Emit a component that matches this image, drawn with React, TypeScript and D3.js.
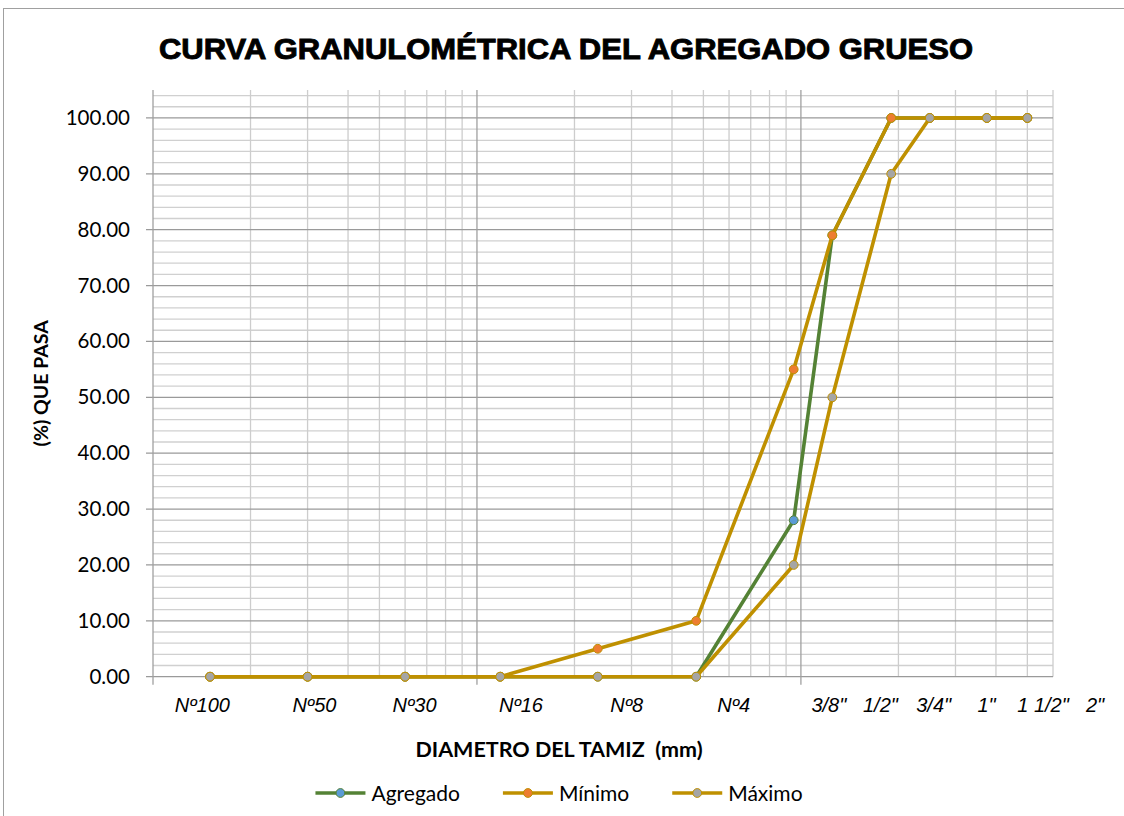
import React, { useRef, useEffect } from "react";
import * as d3 from "d3";

// sieve openings (mm) and % passing for each curve
const sieveSizes = [0.15, 0.3, 0.6, 1.18, 2.36, 4.75, 9.5, 12.5, 19, 25, 37.5, 50];
const agregado = [0, 0, 0, 0, 0, 0, 28, 79, 100, 100, 100, 100];
const minimo = [0, 0, 0, 0, 5, 10, 55, 79, 100, 100, 100, 100];
const maximo = [0, 0, 0, 0, 0, 0, 20, 50, 90, 100, 100, 100];

// labels under the axis (text box in the original, not aligned with the data)
const sieveLabels = ["Nº100", "Nº50", "Nº30", "Nº16", "Nº8", "Nº4", '3/8"', '1/2"', '3/4"', '1"', '1 1/2"', '2"'];
const sieveLabelAt = [0.142, 0.315, 0.642, 1.367, 2.9, 6.2, 12.2, 17.6, 25.7, 37.4, 55.9, 80.9];

const yTicks = d3.range(0, 101, 10);
const yMinor = d3.range(0, 106, 2);

const series = [
  { name: "Agregado", values: agregado, line: "#548235", marker: "#5b9bd5" },
  { name: "Mínimo", values: minimo, line: "#bf9000", marker: "#ed7d31" },
  { name: "Máximo", values: maximo, line: "#bf9000", marker: "#a5a5a5" },
];

export default function App() {
  const svgRef = useRef<SVGSVGElement>(null);

  useEffect(() => {
    const plot = { left: 153, right: 1053, top: 90, bottom: 676.7 };
    const svg = d3.select(svgRef.current);
    svg.selectAll("*").remove();

    // chart frame
    svg.append("rect")
      .attr("x", 3.5).attr("y", 8.5)
      .attr("width", 1300).attr("height", 1000)
      .attr("fill", "#fff").attr("stroke", "#a0a0a0");

    const x = d3.scaleLog().domain([0.1, 60]).range([plot.left, plot.right]);
    const y = d3.scaleLinear().domain([0, 105]).range([plot.bottom, plot.top]);

    const grid = svg.append("g");

    // horizontal minor gridlines
    grid.selectAll(".hminor")
      .data(yMinor.filter((v) => v % 10 !== 0))
      .join("line")
      .attr("x1", plot.left).attr("x2", plot.right)
      .attr("y1", (d) => y(d)).attr("y2", (d) => y(d))
      .attr("stroke", "#d0d0d0").attr("stroke-width", 1.3);

    // vertical gridlines (log minor)
    const xTicks = x.ticks().filter((v) => v > 0.1);
    const isDecade = (v: number) => Math.abs(Math.log10(v) - Math.round(Math.log10(v))) < 1e-6;
    grid.selectAll(".vminor")
      .data(xTicks.filter((v) => !isDecade(v)))
      .join("line")
      .attr("x1", (d) => x(d)).attr("x2", (d) => x(d))
      .attr("y1", plot.top).attr("y2", plot.bottom)
      .attr("stroke", "#cdcdcd").attr("stroke-width", 1.3);

    // horizontal major gridlines + ticks
    grid.selectAll(".hmajor")
      .data(yTicks)
      .join("line")
      .attr("x1", plot.left - 7).attr("x2", plot.right)
      .attr("y1", (d) => y(d)).attr("y2", (d) => y(d))
      .attr("stroke", "#9a9a9a").attr("stroke-width", 1.2);

    // decade lines + ticks
    grid.selectAll(".vmajor")
      .data([0.1, 1, 10])
      .join("line")
      .attr("x1", (d) => x(d)).attr("x2", (d) => x(d))
      .attr("y1", plot.top).attr("y2", plot.bottom + 8)
      .attr("stroke", "#a0a0a0").attr("stroke-width", 1.3);

    // y tick labels
    svg.append("g")
      .selectAll("text")
      .data(yTicks)
      .join("text")
      .attr("x", 130)
      .attr("y", (d) => y(d) + 7)
      .attr("text-anchor", "end")
      .style("font-family", "Lato, 'Open Sans', sans-serif")
      .style("font-size", "20.5px")
      .attr("fill", "#000")
      .text((d) => d3.format(".2f")(d));

    // x labels (italic)
    svg.append("g")
      .selectAll("text")
      .data(sieveLabels)
      .join("text")
      .attr("x", (_, i) => x(sieveLabelAt[i]))
      .attr("y", 712)
      .attr("text-anchor", "middle")
      .style("font-family", "'Liberation Sans', Arial, sans-serif")
      .style("font-style", "italic")
      .style("font-size", "20px")
      .attr("fill", "#000")
      .text((d) => d);

    // series
    const line = d3.line<number>()
      .x((_, i) => x(sieveSizes[i]))
      .y((d) => y(d));

    series.forEach((s) => {
      const g = svg.append("g");
      g.append("path")
        .datum(s.values)
        .attr("d", line)
        .attr("fill", "none")
        .attr("stroke", s.line)
        .attr("stroke-width", 3.6)
        .attr("stroke-linejoin", "round");
      g.selectAll("circle")
        .data(s.values)
        .join("circle")
        .attr("cx", (_, i) => x(sieveSizes[i]))
        .attr("cy", (d) => y(d))
        .attr("r", 4.4)
        .attr("fill", s.marker)
        .attr("stroke", s.line)
        .attr("stroke-width", 1);
    });

    // title
    svg.append("text")
      .attr("x", 566).attr("y", 59)
      .attr("text-anchor", "middle")
      .attr("textLength", 814)
      .attr("lengthAdjust", "spacingAndGlyphs")
      .style("font-family", "'Liberation Sans', Arial, sans-serif")
      .style("font-weight", "bold")
      .style("font-size", "29px")
      .attr("stroke", "#000").attr("stroke-width", 0.9)
      .text("CURVA GRANULOMÉTRICA DEL AGREGADO GRUESO");

    // axis titles
    svg.append("text")
      .attr("transform", `translate(40,${(plot.top + plot.bottom) / 2}) rotate(-90)`)
      .attr("text-anchor", "middle")
      .attr("dominant-baseline", "central")
      .style("font-family", "Lato, 'Open Sans', sans-serif")
      .style("font-weight", "bold")
      .style("font-size", "19.5px")
      .text("(%) QUE PASA");

    svg.append("text")
      .attr("x", 559).attr("y", 756.5)
      .attr("text-anchor", "middle")
      .style("font-family", "Lato, 'Open Sans', sans-serif")
      .style("font-weight", "bold")
      .style("font-size", "21.5px")
      .style("white-space", "pre")
      .text("DIAMETRO DEL TAMIZ  (mm)");

    // legend
    const legend = svg.append("g");
    let cursor = 0;
    const items = series.map((s) => {
      const g = legend.append("g");
      g.append("line")
        .attr("x1", 0).attr("x2", 50)
        .attr("y1", 0).attr("y2", 0)
        .attr("stroke", s.line).attr("stroke-width", 3.6);
      g.append("circle")
        .attr("cx", 25).attr("cy", 0).attr("r", 4.4)
        .attr("fill", s.marker).attr("stroke", s.line).attr("stroke-width", 1);
      const t = g.append("text")
        .attr("x", 56).attr("y", 7.5)
        .style("font-family", "Lato, 'Open Sans', sans-serif")
        .style("font-size", "21px")
        .text(s.name);
      const w = 56 + (t.node() as SVGTextElement).getComputedTextLength();
      const item = { g, x: cursor };
      cursor += w + 43;
      return item;
    });
    const total = cursor - 43;
    const start = 559 - total / 2;
    items.forEach((it) => it.g.attr("transform", `translate(${start + it.x},793)`));
  }, []);

  return (
    <svg
      ref={svgRef}
      width={1124}
      height={816}
      style={{ position: "absolute", left: 0, top: 0, background: "#fff" }}
    />
  );
}
